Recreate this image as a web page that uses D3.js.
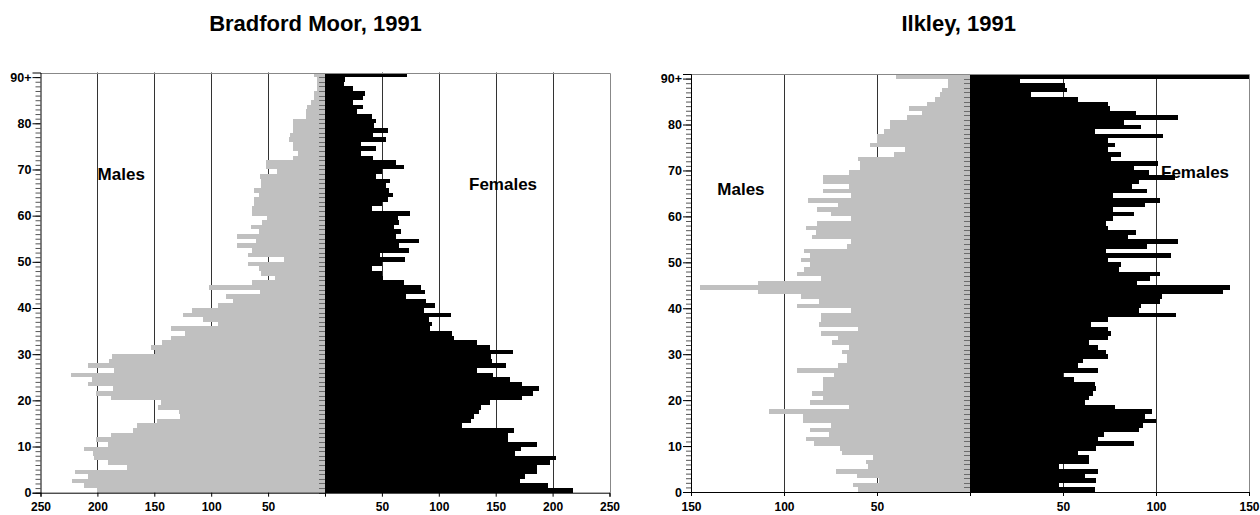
<!DOCTYPE html>
<html lang="en">
<head>
  <meta charset="UTF-8">
  <script src="https://d3js.org/d3.v7.min.js"></script>
  <style>
    body { margin: 0; background: #fff; }
    text { font-family: "Liberation Sans", Arial, sans-serif; font-weight: bold; }
  </style>
  <title>Population pyramids, 1991</title>
</head>
<body>
  <div id="chart"></div>
  <script>
    // single years of age 0..89, last entry is 90+
    var bradfordMales = [200, 212, 222, 208, 220, 174, 191, 203, 204, 212,
      191, 201, 188, 169, 165, 148, 127, 128, 147, 144,
      188, 201, 186, 208, 205, 223, 185, 208, 190, 187,
      149, 153, 143, 135, 123, 135, 94, 107, 125, 117,
      94, 81, 87, 57, 102, 64, 44, 56, 58, 68,
      36, 68, 64, 77, 61, 77, 58, 65, 55, 51,
      64, 64, 62, 62, 58, 62, 56, 56, 57, 42,
      52, 52, 28, 24, 28, 28, 32, 31, 28, 28,
      28, 17, 17, 16, 12, 10, 10, 7, 7, 7, 10];
    var bradfordFemales = [218, 196, 171, 176, 186, 186, 198, 203, 167, 172,
      186, 161, 161, 166, 120, 128, 131, 135, 137, 145,
      173, 183, 188, 173, 163, 148, 134, 159, 147, 146,
      165, 145, 134, 113, 112, 92, 94, 91, 111, 87,
      97, 89, 71, 88, 84, 69, 51, 50, 41, 50,
      70, 48, 74, 65, 83, 62, 67, 61, 65, 64,
      75, 41, 50, 55, 60, 56, 54, 57, 45, 50,
      69, 62, 42, 32, 45, 32, 54, 42, 55, 43,
      45, 41, 28, 33, 25, 33, 35, 25, 17, 18, 72];
    var ilkleyMales = [60, 63, 49, 61, 72, 55, 56, 52, 69, 70,
      84, 88, 76, 86, 75, 90, 90, 108, 65, 86,
      79, 85, 79, 79, 79, 73, 93, 71, 66, 66,
      69, 65, 74, 71, 80, 60, 81, 80, 80, 64,
      93, 81, 91, 114, 145, 114, 80, 93, 89, 86,
      91, 86, 89, 66, 64, 85, 83, 88, 82, 64,
      75, 82, 71, 87, 64, 79, 65, 79, 79, 65,
      59, 59, 60, 41, 35, 54, 50, 50, 46, 43,
      43, 34, 26, 33, 23, 19, 16, 15, 12, 12, 40];
    var ilkleyFemales = [67, 48, 68, 62, 69, 48, 64, 64, 58, 68,
      88, 69, 72, 91, 93, 100, 94, 98, 78, 62,
      64, 66, 68, 67, 56, 50, 69, 58, 61, 74,
      73, 69, 64, 74, 76, 74, 65, 74, 111, 91,
      92, 102, 103, 136, 140, 90, 97, 102, 80, 81,
      74, 108, 73, 95, 112, 85, 89, 74, 73, 77,
      88, 77, 94, 102, 77, 95, 87, 91, 110, 96,
      88, 101, 76, 81, 74, 78, 74, 104, 67, 92,
      83, 112, 89, 75, 74, 58, 33, 52, 51, 27, 150];

    var ageTicks = [0, 10, 20, 30, 40, 50, 60, 70, 80, 90];
    var ageTickLabels = ["0", "10", "20", "30", "40", "50", "60", "70", "80", "90+"];
    var bradfordXTicks = [-250, -200, -150, -100, -50, 0, 50, 100, 150, 200, 250];
    var ilkleyXTicks = [-150, -100, -50, 0, 50, 100, 150];

    var width = 1260;
    var height = 515;

    var svg = d3.select("#chart")
      .append("svg")
      .attr("width", width)
      .attr("height", height)
      .style("display", "block");

    var panels = [
      { title: "Bradford Moor, 1991", males: bradfordMales, females: bradfordFemales,
        xTicks: bradfordXTicks, xMax: 250, left: 40.5, right: 609.5, top: 72.5, bottom: 492.7,
        titleX: 315.5, titleY: 30.7, malesXY: [97.6, 180], femalesXY: [469, 190] },
      { title: "Ilkley, 1991", males: ilkleyMales, females: ilkleyFemales,
        xTicks: ilkleyXTicks, xMax: 150, left: 691, right: 1249, top: 74, bottom: 492,
        titleX: 958.7, titleY: 31, malesXY: [717.3, 195], femalesXY: [1161, 178] }
    ];

    panels.forEach(function(p) {
      var g = svg.append("g");
      var ages = d3.range(p.males.length);

      var x = d3.scaleLinear().domain([-p.xMax, p.xMax]).range([p.left, p.right]);
      var y = d3.scaleLinear().domain([0, ages.length]).range([p.bottom, p.top]);

      // title
      g.append("text")
        .attr("x", p.titleX)
        .attr("y", p.titleY)
        .attr("text-anchor", "middle")
        .style("font-size", "22px")
        .text(p.title);

      // vertical grid lines
      g.selectAll(".grid")
        .data(p.xTicks.filter(function(d) { return d !== 0 && Math.abs(d) !== p.xMax; }))
        .enter().append("line")
        .attr("x1", function(d) { return Math.round(x(d)) + 0.5; })
        .attr("x2", function(d) { return Math.round(x(d)) + 0.5; })
        .attr("y1", y(ages.length))
        .attr("y2", y(0))
        .attr("stroke", "#333")
        .attr("stroke-width", 1);

      // males (left, grey)
      g.selectAll(".male")
        .data(p.males)
        .enter().append("rect")
        .attr("x", function(d) { return x(-d); })
        .attr("width", function(d) { return x(0) - x(-d); })
        .attr("y", function(d, i) { return y(i + 1); })
        .attr("height", function(d, i) { return y(i) - y(i + 1); })
        .attr("fill", "#c0c0c0")
        .attr("shape-rendering", "crispEdges");

      // females (right, black)
      g.selectAll(".female")
        .data(p.females)
        .enter().append("rect")
        .attr("x", x(0))
        .attr("width", function(d) { return x(d) - x(0); })
        .attr("y", function(d, i) { return y(i + 1); })
        .attr("height", function(d, i) { return y(i) - y(i + 1); })
        .attr("fill", "#000")
        .attr("shape-rendering", "crispEdges");

      // small ticks down the centre line
      g.selectAll(".ctick")
        .data(ages)
        .enter().append("line")
        .attr("x1", x(0) - 6)
        .attr("x2", x(0))
        .attr("y1", function(d) { return Math.round(y(d)) + 0.5; })
        .attr("y2", function(d) { return Math.round(y(d)) + 0.5; })
        .attr("stroke", "#6a6a6a");

      // frame (top and right in grey)
      g.append("path")
        .attr("d", "M" + p.left + "," + (Math.round(y(ages.length)) + 0.5) +
                   "H" + (Math.round(p.right) + 0.5) + "V" + p.bottom)
        .attr("fill", "none")
        .attr("stroke", "#888");

      // left axis: minor ticks every year, major every ten
      var minor = g.append("g")
        .attr("transform", "translate(" + p.left + ",0)")
        .call(d3.axisLeft(y).tickValues(ages).tickSize(5).tickFormat(""));
      minor.select(".domain").remove();
      minor.selectAll("line").attr("stroke", "#555");

      var major = g.append("g")
        .attr("transform", "translate(" + p.left + ",0)")
        .call(d3.axisLeft(y).tickValues(ageTicks).tickSize(8).tickPadding(1)
          .tickFormat(function(d, i) { return ageTickLabels[i]; }));
      major.select(".domain").attr("stroke", "#000");
      major.selectAll("text").style("font-size", "12.5px").attr("fill", "#000");

      // bottom axis
      var xAxis = g.append("g")
        .attr("transform", "translate(0," + p.bottom + ")")
        .call(d3.axisBottom(x).tickValues(p.xTicks).tickSize(4).tickPadding(6)
          .tickFormat(function(d) { return d === 0 ? "" : Math.abs(d); }));
      xAxis.select(".domain").attr("stroke", "#000");
      xAxis.selectAll("text").style("font-size", "12px").attr("fill", "#000");

      // sex labels
      g.append("text")
        .attr("x", p.malesXY[0])
        .attr("y", p.malesXY[1])
        .style("font-size", "17px")
        .text("Males");
      g.append("text")
        .attr("x", p.femalesXY[0])
        .attr("y", p.femalesXY[1])
        .style("font-size", "17px")
        .text("Females");
    });
  </script>
</body>
</html>
